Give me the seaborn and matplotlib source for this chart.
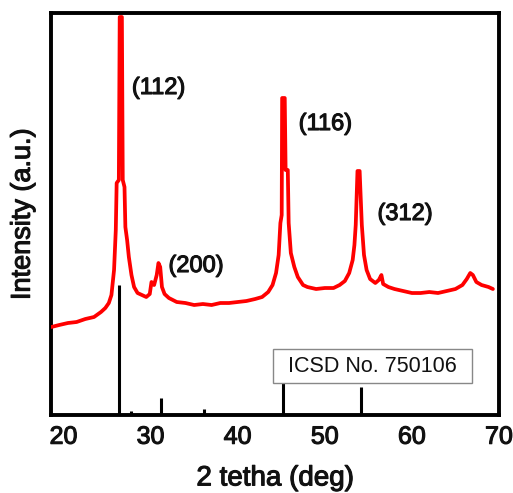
import matplotlib
matplotlib.use("Agg")
import matplotlib.pyplot as plt
import matplotlib.patheffects as pe
import seaborn as sns
import pandas as pd
from matplotlib.patches import Rectangle

# XRD pattern (2theta in deg, intensity in arbitrary units)
two_theta = [18.6, 19.5, 20.5, 21.5, 22.5, 23.5, 24.3, 24.8, 25.2, 25.5,
             25.8, 26.0, 26.1, 26.35, 26.45, 26.7, 26.8, 27.0, 27.1, 27.3,
             27.5, 27.8, 28.1, 28.5, 29.0, 29.5, 29.9, 30.1, 30.4, 30.7,
             30.9, 31.1, 31.3, 31.6, 32.1, 33.0, 34.0, 35.0, 36.0, 37.0,
             38.0, 39.0, 40.0, 41.0, 42.0, 42.8, 43.5, 44.0, 44.4, 44.7,
             44.9, 45.05, 45.1, 45.4, 45.5, 45.75, 45.85, 46.1, 46.5, 46.9,
             47.5, 48.0, 49.0, 50.0, 51.0, 51.7, 52.3, 52.8, 53.2, 53.4,
             53.55, 53.75, 54.0, 54.1, 54.25, 54.5, 54.8, 55.2, 55.8, 56.2,
             56.5, 56.7, 57.3, 58.0, 59.0, 60.0, 61.0, 62.0, 63.0, 64.0,
             65.0, 65.8, 66.3, 66.7, 67.0, 67.4, 68.0, 68.8, 69.3]
intensity = [88, 90, 92, 93, 96, 98, 103, 107, 112, 120,
             145, 185, 232, 235, 398, 398, 235, 228, 188, 175,
             158, 140, 128, 122, 120, 118, 121, 133, 130, 140,
             152, 148, 128, 121, 117, 113, 112, 110, 111, 110,
             112, 112, 113, 114, 116, 118, 123, 130, 142, 160,
             192, 200, 317, 317, 245, 245, 192, 162, 148, 138,
             130, 128, 126, 127, 127, 130, 134, 142, 155, 170,
             190, 244, 244, 222, 190, 160, 145, 136, 132, 135,
             140, 131, 128, 126, 124, 122, 122, 123, 122, 124,
             126, 130, 136, 142, 140, 133, 130, 128, 126]

# reference pattern sticks
ref_pos = [26.4, 27.75, 31.15, 36.15, 45.25, 54.1]
ref_int = [130, 4, 17, 6, 33, 28]

# peak labels
hkl_labels = ["(112)", "(200)", "(116)", "(312)"]
hkl_x = [27.85, 32.05, 47.0, 56.05]
hkl_y = [327, 149, 291, 201]

df = pd.DataFrame({"two_theta": two_theta, "intensity": intensity})

sns.set_style("white")
plt.rcParams["font.family"] = ["Liberation Sans", "DejaVu Sans"]

ink = "#111111"
heavy = [pe.withStroke(linewidth=0.8, foreground=ink)]

fig = plt.figure(figsize=(5.13, 4.93), dpi=100)
ax = fig.add_axes([0.0994, 0.1582, 0.8733, 0.8154])

sns.lineplot(data=df, x="two_theta", y="intensity", color="#ff0000",
             linewidth=2.7, ax=ax, zorder=3)
ax.vlines(ref_pos, 0, ref_int, colors="black", linewidth=2.2, zorder=2)

for lab, xx, yy in zip(hkl_labels, hkl_x, hkl_y):
    ax.text(xx, yy, lab, fontsize=17, ha="left", va="center", color=ink,
            path_effects=heavy)

ax.add_patch(Rectangle((44.0, 32.5), 22.9, 33.2, facecolor="white",
                       edgecolor="#888888", linewidth=1.0, zorder=4))
ax.text(55.45, 48.5, "ICSD No. 750106", fontsize=15.5, ha="center",
        va="center", color=ink, zorder=5)

ax.set_xlim(18.56, 69.26)
ax.set_ylim(0, 402)
ax.set_xticks([20, 30, 40, 50, 60, 70])
ax.set_yticks([])
ax.tick_params(axis="x", length=0, pad=7, labelsize=18, labelcolor=ink)
for t in ax.get_xticklabels():
    t.set_path_effects(heavy)
ax.set_xlabel("2 tetha (deg)", fontsize=20, labelpad=12, color=ink,
              path_effects=heavy)
ax.set_ylabel("Intensity (a.u.)", fontsize=19.5, labelpad=11, color=ink,
              path_effects=heavy)

for sp in ax.spines.values():
    sp.set_visible(True)
    sp.set_color("black")
    sp.set_linewidth(2.8)

fig.savefig("out.png", dpi=100)
